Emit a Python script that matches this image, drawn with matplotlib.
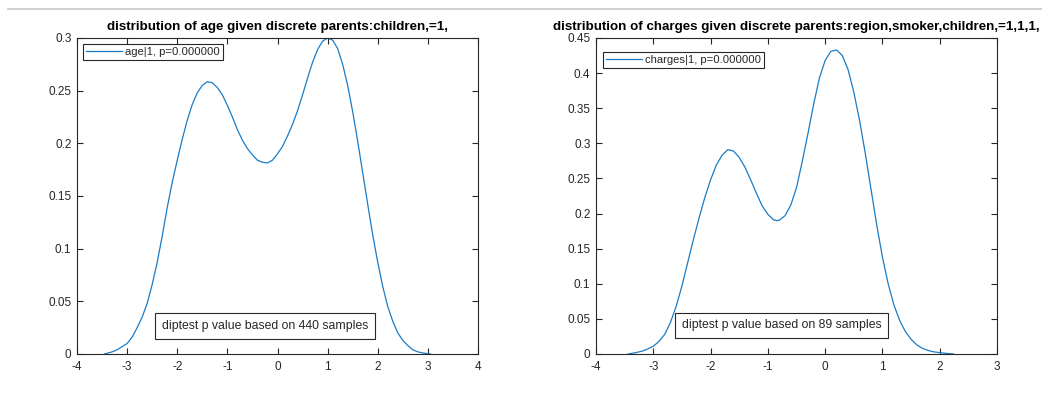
import matplotlib
matplotlib.use("Agg")
import matplotlib.pyplot as plt
from matplotlib.lines import Line2D

plt.rcParams['font.family'] = ['Liberation Sans', 'DejaVu Sans']

# ---- data ----
age_x = [-3.45, -3.3, -3.2, -3.1, -3.0, -2.9, -2.8, -2.7, -2.6, -2.5, -2.4, -2.3, -2.2, -2.1,
         -2.0, -1.9, -1.8, -1.7, -1.6, -1.5, -1.4, -1.3, -1.2, -1.1, -1.0, -0.9, -0.8, -0.7,
         -0.6, -0.5, -0.4, -0.3, -0.2, -0.1, 0.0, 0.1, 0.2, 0.3, 0.4, 0.5, 0.6, 0.7, 0.8, 0.9,
         1.0, 1.1, 1.2, 1.3, 1.4, 1.5, 1.6, 1.7, 1.8, 1.9, 2.0, 2.1, 2.2, 2.3, 2.4, 2.5, 2.6,
         2.7, 2.8, 2.9, 3.05]
age_y = [0.000, 0.002, 0.004, 0.007, 0.010, 0.016, 0.025, 0.035, 0.048, 0.066, 0.087, 0.112,
         0.139, 0.163, 0.184, 0.204, 0.222, 0.237, 0.248, 0.255, 0.2585, 0.2575, 0.253, 0.246,
         0.236, 0.225, 0.213, 0.203, 0.195, 0.189, 0.184, 0.182, 0.1814, 0.184, 0.190, 0.197,
         0.207, 0.218, 0.231, 0.246, 0.262, 0.277, 0.289, 0.297, 0.300, 0.298, 0.290, 0.275,
         0.255, 0.230, 0.202, 0.172, 0.142, 0.113, 0.087, 0.064, 0.045, 0.031, 0.020, 0.013,
         0.008, 0.004, 0.002, 0.001, 0.000]

chg_x = [-3.44, -3.3, -3.2, -3.1, -3.0, -2.9, -2.8, -2.7, -2.6, -2.5, -2.4, -2.3, -2.2, -2.1,
         -2.0, -1.9, -1.8, -1.7, -1.6, -1.5, -1.4, -1.3, -1.2, -1.1, -1.0, -0.9, -0.85, -0.8,
         -0.7, -0.6, -0.5, -0.4, -0.3, -0.2, -0.1, 0.0, 0.1, 0.2, 0.3, 0.4, 0.5, 0.6, 0.7, 0.8,
         0.9, 1.0, 1.1, 1.2, 1.3, 1.4, 1.5, 1.6, 1.7, 1.8, 1.9, 2.0, 2.1, 2.24]
chg_y = [0.000, 0.002, 0.004, 0.007, 0.011, 0.018, 0.028, 0.045, 0.068, 0.097, 0.130, 0.163,
         0.194, 0.223, 0.248, 0.269, 0.283, 0.291, 0.289, 0.280, 0.266, 0.248, 0.229, 0.211,
         0.199, 0.191, 0.190, 0.1905, 0.197, 0.212, 0.237, 0.274, 0.314, 0.356, 0.393, 0.418,
         0.431, 0.433, 0.425, 0.405, 0.373, 0.333, 0.286, 0.235, 0.184, 0.138, 0.100, 0.070,
         0.048, 0.032, 0.021, 0.013, 0.008, 0.005, 0.003, 0.002, 0.001, 0.000]

titles = ["distribution of age given discrete parents:children,=1,",
          "distribution of charges given discrete parents:region,smoker,children,=1,1,1,"]
legend_labels = ["age|1, p=0.000000", "charges|1, p=0.000000"]
note_texts = ["diptest p value based on 440 samples", "diptest p value based on 89 samples"]
xticks_list = [list(range(-4, 5)), list(range(-4, 4))]
yticks_list = [[0, 0.05, 0.1, 0.15, 0.2, 0.25, 0.3],
               [0, 0.05, 0.1, 0.15, 0.2, 0.25, 0.3, 0.35, 0.4, 0.45]]
ytick_labels = [["0", "0.05", "0.1", "0.15", "0.2", "0.25", "0.3"],
                ["0", "0.05", "0.1", "0.15", "0.2", "0.25", "0.3", "0.35", "0.4", "0.45"]]

# ---- figure ----
W, H = 1042, 393
fig = plt.figure(figsize=(W / 100, H / 100), dpi=100)
fig.patch.set_facecolor('white')

# thin grey separator line at top (screenshot frame)
fig.add_artist(Line2D([8 / W, 1.0], [1 - 8.5 / H, 1 - 8.5 / H], color='#c8c8c8', lw=1.2))

axes_rects = [[77 / W, 1 - 354 / H, 401 / W, 316 / H],
              [596 / W, 1 - 354 / H, 401 / W, 316 / H]]
legend_anchor = [(0.015, 0.981), (0.0175, 0.956)]
note_pos = [(-2.30, 0.0266), (-2.50, 0.0406)]
xlims = [(-4, 4), (-4, 3)]
ylims = [(0, 0.3), (0, 0.45)]
data = [(age_x, age_y), (chg_x, chg_y)]

gray = '#262626'
blue = '#1a7cc6'

for i in range(2):
    ax = fig.add_axes(axes_rects[i])
    x, y = data[i]
    ax.plot(x, y, color=blue, lw=0.9, label=legend_labels[i])
    ax.set_xlim(*xlims[i])
    ax.set_ylim(*ylims[i])
    ax.set_xticks(xticks_list[i])
    ax.set_xticklabels([str(v) for v in xticks_list[i]])
    ax.set_yticks(yticks_list[i])
    ax.set_yticklabels(ytick_labels[i])
    ax.tick_params(direction='in', length=4, width=0.8, colors=gray, labelsize=8.5,
                   top=True, right=True, pad=4)
    ax.tick_params(axis='x', pad=5)
    for s in ax.spines.values():
        s.set_color(gray)
        s.set_linewidth(0.8)
    ax.set_title(titles[i], fontsize=9.6, fontweight='bold', color='black', pad=6)
    leg = ax.legend(loc='upper left', bbox_to_anchor=legend_anchor[i], fontsize=8.1,
                    frameon=True, fancybox=False, edgecolor=gray, framealpha=1,
                    handlelength=3.2, handletextpad=0.3, borderpad=0.25,
                    borderaxespad=0.0)
    leg.get_frame().set_linewidth(0.8)
    for t in leg.get_texts():
        t.set_color(gray)
    ax.text(note_pos[i][0], note_pos[i][1], note_texts[i], fontsize=8.8, color=gray,
            ha='left', va='center',
            bbox=dict(boxstyle='square,pad=0.55', fc='white', ec=gray, lw=0.8))

fig.savefig('out.png', dpi=100, facecolor='white')
